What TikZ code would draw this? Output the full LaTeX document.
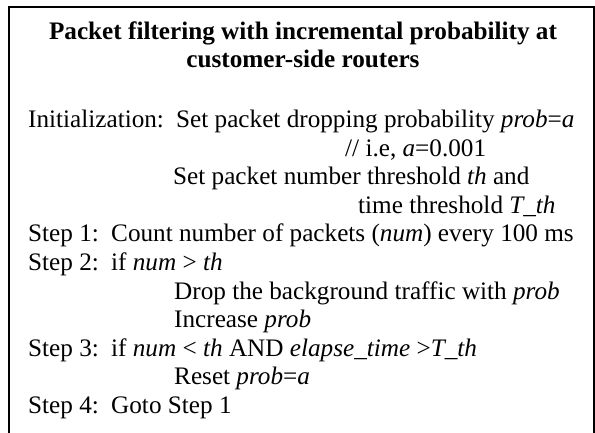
\documentclass[tikz,border=0pt]{standalone}
\usepackage{fontspec}
\setmainfont{Liberation Serif}
\begin{document}
\begin{tikzpicture}[x=1pt,y=-1pt]

    \tikzstyle{line}=[anchor=base west,inner sep=0pt,font=\fontsize{25.2}{28}\selectfont]
    \tikzstyle{heading}=[anchor=base,inner sep=0pt,font=\fontsize{25.2}{28}\selectfont\bfseries]

    \useasboundingbox (0,0) rectangle (595,433);
    % open frame, no bottom edge
    \draw[line width=1.5pt] (9,433) -- (9,7) -- (594,7) -- (594,433);

    \node[heading] (Title) at (303,40) {Packet filtering with incremental probability at};
    \node[heading] (Title2) at (303,68) {customer-side routers};

    \node[line] (Init) at (28,128) {Initialization:};
    \node[line] (InitProb) at (176,128) {Set packet dropping probability \textit{prob}=\textit{a}};
    \node[line] (InitNote) at (345,156.5) {// i.e, \textit{a}=0.001};
    \node[line] (InitTh) at (173,185) {Set packet number threshold \textit{th} and};
    \node[line] (InitT) at (358,213.5) {time threshold \textit{T\_th}};

    \node[line] (Step1) at (28,242) {Step 1:};
    \node[line] (Count) at (111,242) {Count number of packets (\textit{num}) every 100 ms};

    \node[line] (Step2) at (28,270.5) {Step 2:};
    \node[line] (If2) at (111,270.5) {if \textit{num} > \textit{th}};
    \node[line] (Drop) at (174,299) {Drop the background traffic with \textit{prob}};
    \node[line] (Incr) at (174,327.5) {Increase \textit{prob}};

    \node[line] (Step3) at (28,356) {Step 3:};
    \node[line] (If3) at (111,356) {if \textit{num} < \textit{th} AND \textit{elapse\_time} >\textit{T\_th}};
    \node[line] (Reset) at (174,384.5) {Reset \textit{prob}=\textit{a}};

    \node[line] (Step4) at (28,413) {Step 4:};
    \node[line] (Goto) at (111,413) {Goto Step 1};

\end{tikzpicture}
\end{document}
